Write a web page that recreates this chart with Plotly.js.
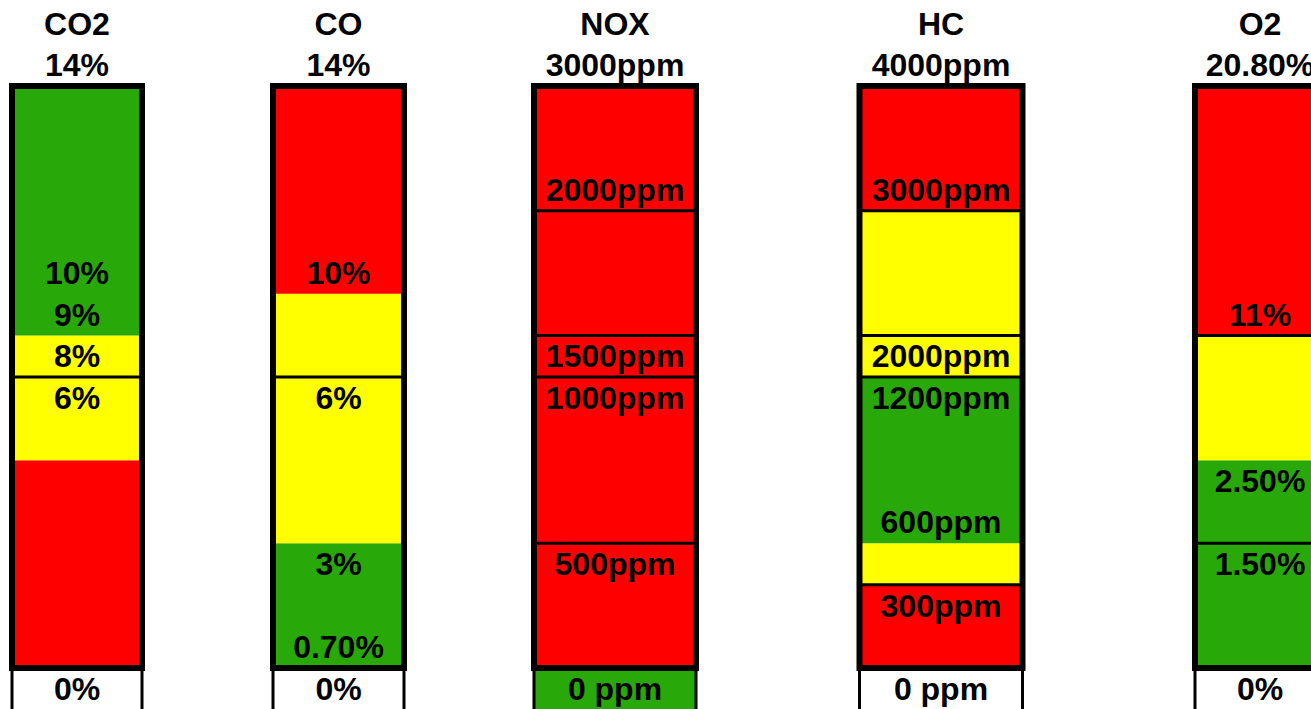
<!DOCTYPE html>
<html>
<head>
<meta charset="utf-8">
<script src="https://cdn.plot.ly/plotly-3.0.1.min.js"></script>
<style>html,body{margin:0;padding:0;background:#fff;}#chart{width:1311px;height:709px;}</style>
</head>
<body>
<div id="chart"></div>
<script>
// ---------- DATA ----------
const gases = ['CO2', 'CO', 'NOX', 'HC', 'O2'];
const fullScaleLabels = ['14%', '14%', '3000ppm', '4000ppm', '20.80%'];
const zeroLabels = ['0%', '0%', '0 ppm', '0 ppm', '0%'];
const zeroStatus = ['none', 'none', 'good', 'none', 'none'];

// colour bands, from the bottom, in grid rows (the scale holds 14 rows)
const co2Bands = [5, 3, 6];        const co2Status = ['bad', 'warn', 'good'];
const coBands = [3, 6, 5];         const coStatus = ['good', 'warn', 'bad'];
const noxBands = [14];             const noxStatus = ['bad'];
const hcBands = [2, 1, 4, 4, 3];   const hcStatus = ['bad', 'warn', 'good', 'warn', 'bad'];
const o2Bands = [5, 3, 6];         const o2Status = ['good', 'warn', 'bad'];

// row boundaries carrying a divider line
const co2Rules = [7];
const coRules = [7];
const noxRules = [3, 7, 8, 11];
const hcRules = [2, 7, 8, 11];
const o2Rules = [3, 8];

// threshold labels and the grid row that holds them
const co2Labels = ['10%', '9%', '8%', '6%'];                     const co2LabelRows = [9, 8, 7, 6];
const coLabels = ['10%', '6%', '3%', '0.70%'];                   const coLabelRows = [9, 6, 2, 0];
const noxLabels = ['2000ppm', '1500ppm', '1000ppm', '500ppm'];   const noxLabelRows = [11, 7, 6, 2];
const hcLabels = ['3000ppm', '2000ppm', '1200ppm', '600ppm', '300ppm']; const hcLabelRows = [11, 7, 6, 3, 1];
const o2Labels = ['11%', '2.50%', '1.50%'];                      const o2LabelRows = [8, 4, 2];

// ---------- LAYOUT / STYLE ----------
const colCenters = [77, 338.5, 615, 941, 1260];
const colWidths = [130, 131, 162, 163, 130];
const ROWS = 14;
const TEXT_SHIFT = -0.07;
const statusColor = { good: '#29A809', warn: '#FFFF00', bad: '#FF0000', none: 'rgba(0,0,0,0)' };
const FONT = { family: 'Liberation Sans, Arial, sans-serif', size: 32, color: '#000', weight: 'bold' };

const bands = [co2Bands, coBands, noxBands, hcBands, o2Bands];
const statuses = [co2Status, coStatus, noxStatus, hcStatus, o2Status];
const rules = [co2Rules, coRules, noxRules, hcRules, o2Rules];
const labels = [co2Labels, coLabels, noxLabels, hcLabels, o2Labels];
const labelRows = [co2LabelRows, coLabelRows, noxLabelRows, hcLabelRows, o2LabelRows];

const traces = [];

// colour bands
const bx = [], by = [], bb = [], bw = [], bc = [];
gases.forEach((g, i) => {
  let base = 0;
  bands[i].forEach((h, j) => {
    bx.push(colCenters[i]); by.push(h); bb.push(base); bw.push(colWidths[i]);
    bc.push(statusColor[statuses[i][j]]);
    base += h;
  });
  // zero cell below the scale
  bx.push(colCenters[i]); by.push(1); bb.push(-1); bw.push(colWidths[i]);
  bc.push(statusColor[zeroStatus[i]]);
});
traces.push({ type: 'bar', x: bx, y: by, base: bb, width: bw,
  marker: { color: bc, line: { width: 0 } }, hoverinfo: 'skip' });

// divider lines
const rx = [], ry = [];
gases.forEach((g, i) => {
  const l = colCenters[i] - colWidths[i] / 2, r = colCenters[i] + colWidths[i] / 2;
  rules[i].forEach(v => { rx.push(l, r, null); ry.push(v, v, null); });
  // side borders of the zero cell
  rx.push(l, l, null, r, r, null); ry.push(0, -1.2, null, 0, -1.2, null);
});
traces.push({ type: 'scatter', mode: 'lines', x: rx, y: ry,
  line: { color: '#000', width: 3 }, hoverinfo: 'skip' });

// thick frame around each scale
traces.push({ type: 'bar', x: colCenters, y: gases.map(() => ROWS), base: gases.map(() => 0),
  width: colWidths, marker: { color: 'rgba(0,0,0,0)', line: { color: '#000', width: 6 } }, hoverinfo: 'skip' });

// texts
const tx = [], ty = [], tt = [];
gases.forEach((g, i) => {
  tx.push(colCenters[i]); ty.push(ROWS + 1.5 + TEXT_SHIFT); tt.push(g);
  tx.push(colCenters[i]); ty.push(ROWS + 0.5 + TEXT_SHIFT); tt.push(fullScaleLabels[i]);
  labels[i].forEach((t, k) => { tx.push(colCenters[i]); ty.push(labelRows[i][k] + 0.5 + TEXT_SHIFT); tt.push(t); });
  tx.push(colCenters[i]); ty.push(-0.5 + TEXT_SHIFT); tt.push(zeroLabels[i]);
});
traces.push({ type: 'scatter', mode: 'text', x: tx, y: ty, text: tt,
  textposition: 'middle center', textfont: FONT, cliponaxis: false, hoverinfo: 'skip' });

const layout = {
  width: 1311, height: 709,
  margin: { l: 0, r: 0, t: 0, b: 0, pad: 0 },
  paper_bgcolor: '#fff', plot_bgcolor: '#fff',
  showlegend: false, barmode: 'overlay', hovermode: false,
  xaxis: { range: [0, 1311], visible: false, fixedrange: true },
  yaxis: { range: [-0.986, 16.069], visible: false, fixedrange: true }
};

Plotly.newPlot('chart', traces, layout, { displayModeBar: false, staticPlot: true });
</script>
</body>
</html>
